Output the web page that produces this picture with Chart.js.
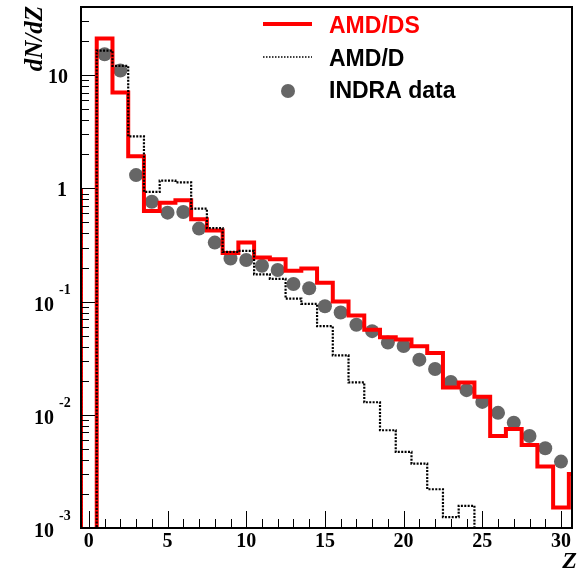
<!DOCTYPE html>
<html>
<head>
<meta charset="utf-8">
<script src="https://cdn.jsdelivr.net/npm/chart.js@4/dist/chart.umd.min.js"></script>
<style>
  html, body { margin: 0; padding: 0; background: #fff; }
  #wrap { width: 579px; height: 575px; }
</style>
</head>
<body>
<div id="wrap"><canvas id="chart" width="579" height="575"></canvas></div>
<script>
// histogram bins: bin Z covers Z-0.5 .. Z+0.5, 0 means empty
const binZ = [0, 1, 2, 3, 4, 5, 6, 7, 8, 9, 10, 11, 12, 13, 14, 15,
  16, 17, 18, 19, 20, 21, 22, 23, 24, 25, 26, 27, 28, 29, 30, 31];
const amdDS = [0, 21.1, 7.03, 1.92, 0.63, 0.747, 0.784, 0.534, 0.425, 0.268, 0.332,
  0.245, 0.237, 0.187, 0.196, 0.147, 0.100, 0.0753, 0.0564, 0.0485, 0.0463,
  0.0404, 0.0351, 0.0174, 0.0193, 0.0144, 0.0065, 0.0075, 0.0054, 0.0035, 0.00152, 0.003];
const amdD = [0, 16.5, 12.1, 2.88, 0.93, 1.17, 1.13, 0.662, 0.445, 0.275, 0.281,
  0.174, 0.159, 0.106, 0.0955, 0.0606, 0.0335, 0.0193, 0.0129, 0.0073, 0.0047,
  0.0037, 0.0022, 0.00125, 0.00157, 0, 0, 0, 0, 0, 0, 0];
// both histograms come up the left frame edge to about 1
const edgeStart = 1.0;

const indraZ = [1, 2, 3, 4, 5, 6, 7, 8, 9, 10, 11, 12, 13, 14, 15,
  16, 17, 18, 19, 20, 21, 22, 23, 24, 25, 26, 27, 28, 29, 30];
const indraVal = [15.3, 11.0, 1.31, 0.762, 0.61, 0.619, 0.441, 0.332, 0.24, 0.233,
  0.207, 0.19, 0.143, 0.131, 0.091, 0.080, 0.0624, 0.0548, 0.0434, 0.0405,
  0.0307, 0.0254, 0.0195, 0.0165, 0.013, 0.0104, 0.0085, 0.0065, 0.00507, 0.00386];

const seriesNames = ["AMD/DS", "AMD/D", "INDRA data"];
const xTicks = [0, 5, 10, 15, 20, 25, 30];
const yDecades = [-3, -2, -1, 0, 1];

const FLOOR = 1e-5;
const SERIF = '"Liberation Serif", "Times New Roman", serif';
const SANS = '"Liberation Sans", Arial, sans-serif';

const stepPoints = (vals) => {
  const pts = [{ x: binZ[0] - 0.5, y: edgeStart }];
  vals.forEach((v, i) => {
    const y = v > 0 ? v : FLOOR;
    pts.push({ x: binZ[i] - 0.5, y: y });
    pts.push({ x: binZ[i] + 0.5, y: y });
  });
  return pts;
};

const line = (ctx, x1, y1, x2, y2) => {
  ctx.beginPath();
  ctx.moveTo(x1, y1);
  ctx.lineTo(x2, y2);
  ctx.stroke();
};

const rootFrame = {
  id: "rootFrame",
  afterDatasetsDraw(chart) {
    const { ctx, chartArea: a, scales } = chart;
    const x = scales.x, y = scales.y;
    ctx.save();

    // ticks, pointing inwards
    ctx.strokeStyle = "#000";
    ctx.lineWidth = 1;
    yDecades.forEach((d) => {
      for (let m = 1; m <= 9; m++) {
        const v = m * Math.pow(10, d);
        if (v <= y.min * 1.0001 || v > y.max) continue;
        const py = Math.round(y.getPixelForValue(v)) + 0.5;
        line(ctx, a.left, py, a.left + (m === 1 ? 14 : 8), py);
      }
    });
    for (let z = 0; z <= 30; z++) {
      const px = Math.round(x.getPixelForValue(z)) + 0.5;
      line(ctx, px, a.bottom, px, a.bottom - (z % 5 === 0 ? 17 : 9));
    }

    // frame
    ctx.lineWidth = 2;
    ctx.strokeRect(a.left, a.top, a.right - a.left, a.bottom - a.top);

    // y labels, 10^n style
    ctx.fillStyle = "#000";
    ctx.textBaseline = "alphabetic";
    yDecades.forEach((d) => {
      const py = y.getPixelForValue(Math.pow(10, d));
      ctx.font = "bold 20px " + SERIF;
      if (d === 0) {
        ctx.textAlign = "right";
        ctx.fillText("1", 67, py + 8);
      } else if (d === 1) {
        ctx.textAlign = "right";
        ctx.fillText("10", 68, py + 8);
      } else {
        ctx.textAlign = "right";
        ctx.fillText("10", 54, py + 9);
        ctx.font = "bold 14px " + SERIF;
        ctx.textAlign = "left";
        ctx.fillText(String(d), 59, py - 8);
      }
    });

    // axis titles
    ctx.font = "bold italic 24px " + SERIF;
    ctx.textAlign = "right";
    ctx.fillText("Z", 577, 568);
    ctx.save();
    ctx.translate(42, 6);
    ctx.rotate(-Math.PI / 2);
    ctx.font = "bold italic 25px " + SERIF;
    ctx.textAlign = "right";
    ctx.fillText("dN/dZ", 0, 0);
    ctx.restore();

    // legend
    ctx.font = "bold 23px " + SANS;
    ctx.textAlign = "left";
    ctx.strokeStyle = "#ff0000";
    ctx.lineWidth = 4;
    line(ctx, 263, 24, 312, 24);
    ctx.fillStyle = "#ff0000";
    ctx.fillText(seriesNames[0], 329, 33);

    ctx.strokeStyle = "#000";
    ctx.lineWidth = 1.5;
    ctx.setLineDash([1.5, 1.5]);
    line(ctx, 263, 57, 312, 57);
    ctx.setLineDash([]);
    ctx.fillStyle = "#000";
    ctx.fillText(seriesNames[1], 329, 66);

    ctx.fillStyle = "#666";
    ctx.beginPath();
    ctx.arc(288, 91, 7, 0, Math.PI * 2);
    ctx.fill();
    ctx.fillStyle = "#000";
    ctx.fillText(seriesNames[2], 329, 98);

    ctx.restore();
  },
};

new Chart(document.getElementById("chart"), {
  type: "scatter",
  data: {
    datasets: [
      {
        label: seriesNames[1],
        data: stepPoints(amdD),
        showLine: true,
        borderColor: "#000",
        borderWidth: 2.2,
        borderDash: [2, 1.4],
        borderJoinStyle: "miter",
        pointRadius: 0,
        clip: 0,
        order: 0,
      },
      {
        label: seriesNames[0],
        data: stepPoints(amdDS),
        showLine: true,
        borderColor: "#ff0000",
        borderWidth: 4,
        borderJoinStyle: "miter",
        pointRadius: 0,
        clip: 0,
        order: 1,
      },
      {
        label: seriesNames[2],
        data: indraZ.map((z, i) => ({ x: z, y: indraVal[i] })),
        showLine: false,
        pointRadius: 7,
        pointBackgroundColor: "#666",
        pointBorderWidth: 0,
        order: 2,
      },
    ],
  },
  options: {
    responsive: false,
    animation: false,
    events: [],
    layout: {
      padding: { left: 81, right: 2, top: 5, bottom: 0 },
    },
    scales: {
      x: {
        type: "linear",
        min: -0.5,
        max: 30.7,
        afterBuildTicks: (axis) => {
          axis.ticks = xTicks.map((v) => ({ value: v }));
        },
        afterFit: (axis) => {
          axis.height = 47;
        },
        grid: { display: false, drawTicks: false },
        border: { display: false },
        ticks: {
          padding: 2,
          maxRotation: 0,
          autoSkip: false,
          color: "#000",
          font: { family: SERIF, size: 20, weight: "bold" },
        },
      },
      y: {
        type: "logarithmic",
        min: 0.001,
        max: 40,
        display: false,
      },
    },
    plugins: {
      legend: { display: false },
      tooltip: { enabled: false },
    },
  },
  plugins: [rootFrame],
});
</script>
</body>
</html>
